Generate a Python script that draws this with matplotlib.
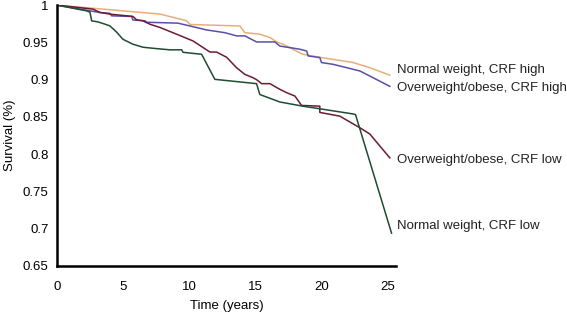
"""Kaplan-Meier style survival curves by weight status and CRF."""

import matplotlib
matplotlib.use("Agg")
import matplotlib.pyplot as plt

# ── Data ──────────────────────────────────────────────────────────────────

nw_high_t = [0, 7.78, 9.80, 10.05, 13.82, 14.2, 15.33, 16.09, 16.6, 17.07,
             18.58, 19.86, 22.36, 23.64, 25.15]
nw_high_s = [1.0, 0.988, 0.979, 0.974, 0.972, 0.963, 0.961, 0.9565, 0.9506,
             0.9475, 0.934, 0.930, 0.923, 0.916, 0.906]

ow_high_t = [0, 3.25, 4.0, 4.13, 5.64, 5.74, 6.65, 6.77, 9.14, 10.05, 11.3,
             12.69, 13.57, 14.2, 15.08, 16.47, 16.84, 17.6, 18.35, 18.86,
             18.98, 19.86, 19.99, 20.85, 21.88, 22.89, 23.4, 25.15]
ow_high_s = [1.0, 0.990, 0.989, 0.9856, 0.9848, 0.980, 0.979, 0.977, 0.9758,
             0.972, 0.9667, 0.963, 0.9587, 0.9587, 0.9506, 0.9506, 0.945,
             0.943, 0.9408, 0.9385, 0.9318, 0.9296, 0.9229, 0.9206, 0.9161,
             0.9116, 0.907, 0.891]

ow_low_t = [0, 2.72, 3.25, 4.0, 5.74, 6.02, 6.5, 7.02, 7.78, 9.04, 10.27,
            11.56, 12.06, 12.82, 13.57, 14.2, 14.8, 15.08, 15.46, 16.09,
            16.84, 17.35, 17.98, 18.48, 19.86, 19.86, 21.37, 22.89, 23.64,
            25.15]
ow_low_s = [1.0, 0.9946, 0.9902, 0.9879, 0.9848, 0.9802, 0.9789, 0.9744,
            0.970, 0.961, 0.952, 0.937, 0.937, 0.930, 0.916, 0.907, 0.9027,
            0.900, 0.8946, 0.8946, 0.887, 0.8825, 0.878, 0.8654, 0.8644,
            0.856, 0.851, 0.8354, 0.827, 0.795]

nw_low_t = [0, 2.24, 2.49, 2.62, 3.10, 3.63, 4.0, 4.51, 4.98, 5.74, 6.5,
            7.25, 8.53, 9.42, 9.52, 10.93, 11.93, 15.08, 15.33, 16.84, 18.58,
            22.36, 22.56, 25.28]
nw_low_s = [1.0, 0.9923, 0.9906, 0.9789, 0.9775, 0.9744, 0.9721, 0.9637,
            0.9542, 0.9475, 0.9435, 0.9421, 0.940, 0.940, 0.9367, 0.934,
            0.9004, 0.8946, 0.880, 0.870, 0.8644, 0.854, 0.853, 0.694]

labels = ["Normal weight, CRF high", "Overweight/obese, CRF high",
          "Overweight/obese, CRF low", "Normal weight, CRF low"]
label_y = [0.9125, 0.8883, 0.7927, 0.7039]

x_ticks = [0, 5, 10, 15, 20, 25]
y_ticks = [0.65, 0.7, 0.75, 0.8, 0.85, 0.9, 0.95, 1.0]
y_ticklabels = ["0.65", "0.7", "0.75", "0.8", "0.85", "0.9", "0.95", "1"]

# ── Plot ──────────────────────────────────────────────────────────────────

plt.rcParams["font.family"] = ["Liberation Sans", "DejaVu Sans"]
plt.rcParams["font.size"] = 9.5

fig = plt.figure(figsize=(5.67, 3.2), dpi=100)
ax = fig.add_axes([0.1005, 0.169, 0.5975, 0.815])

series = [
    (nw_high_t, nw_high_s, "#E9AE78"),
    (ow_high_t, ow_high_s, "#5A4FA6"),
    (ow_low_t, ow_low_s, "#6E1A35"),
    (nw_low_t, nw_low_s, "#1E4D33"),
]
for t, s, c in series:
    ax.plot(t, s, color=c, linewidth=1.1)

for lab, y in zip(labels, label_y):
    ax.text(25.7, y, lab, ha="left", va="center", fontsize=9.5,
            color="#222222", clip_on=False)

ax.set_xlim(0, 25.6)
ax.set_ylim(0.65, 1.0)
ax.set_xticks(x_ticks)
ax.set_yticks(y_ticks)
ax.set_yticklabels(y_ticklabels)
ax.tick_params(length=0, pad=6)
ax.tick_params(axis="x", pad=11)
ax.set_xlabel("Time (years)", labelpad=5)
ax.set_ylabel("Survival (%)", labelpad=5)

for side in ("top", "right"):
    ax.spines[side].set_visible(False)
for side in ("left", "bottom"):
    ax.spines[side].set_linewidth(1.8)
    ax.spines[side].set_color("black")

fig.savefig("out.png", dpi=100)
